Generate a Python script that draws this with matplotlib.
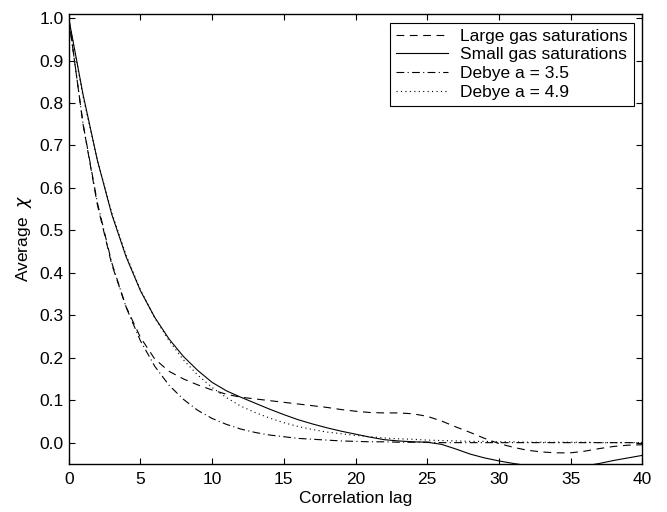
import matplotlib
matplotlib.use("Agg")
import matplotlib.pyplot as plt

plt.rcParams['font.family'] = ['Liberation Sans', 'DejaVu Sans']
plt.rcParams['mathtext.fontset'] = 'dejavusans'

# correlation lags
lag = [0, 1, 2, 3, 4, 5, 6, 7, 8, 9, 10, 11, 12, 13, 14, 15, 16, 17, 18, 19, 20,
       21, 22, 23, 24, 25, 26, 27, 28, 29, 30, 31, 32, 33, 34, 35, 36, 37, 38, 39, 40]

large_gas = [1.0, 0.75, 0.56, 0.42, 0.32, 0.248, 0.197, 0.168, 0.150, 0.136, 0.124,
             0.114, 0.107, 0.103, 0.099, 0.095, 0.091, 0.087, 0.083, 0.078, 0.074,
             0.071, 0.070, 0.070, 0.068, 0.062, 0.051, 0.037, 0.024, 0.010, -0.002,
             -0.011, -0.018, -0.022, -0.024, -0.024, -0.020, -0.014, -0.009, -0.006, -0.005]

small_gas = [1.0, 0.82, 0.665, 0.538, 0.438, 0.358, 0.295, 0.244, 0.203, 0.17, 0.142,
             0.122, 0.107, 0.093, 0.079, 0.066, 0.054, 0.044, 0.035, 0.027, 0.02,
             0.013, 0.007, 0.004, 0.002, 0.001, -0.004, -0.015, -0.027, -0.036, -0.043,
             -0.049, -0.054, -0.057, -0.058, -0.058, -0.055, -0.049, -0.042, -0.036, -0.03]

debye_35 = [1.0, 0.751, 0.565, 0.424, 0.319, 0.240, 0.180, 0.135, 0.102, 0.076, 0.057,
            0.043, 0.032, 0.024, 0.018, 0.014, 0.010, 0.008, 0.006, 0.004, 0.003,
            0.002, 0.002, 0.001, 0.001, 0.001, 0.0, 0.0, 0.0, 0.0, 0.0,
            0.0, 0.0, 0.0, 0.0, 0.0, 0.0, 0.0, 0.0, 0.0, 0.0]

debye_49 = [1.0, 0.815, 0.665, 0.542, 0.442, 0.360, 0.294, 0.240, 0.195, 0.159, 0.130,
            0.106, 0.086, 0.071, 0.058, 0.047, 0.038, 0.031, 0.025, 0.021, 0.017,
            0.014, 0.011, 0.009, 0.008, 0.006, 0.005, 0.004, 0.003, 0.003, 0.002,
            0.002, 0.001, 0.001, 0.001, 0.001, 0.001, 0.0, 0.0, 0.0, 0.0]

labels = ['Large gas saturations', 'Small gas saturations', 'Debye a = 3.5', 'Debye a = 4.9']

fig = plt.figure(figsize=(6.67, 5.12), dpi=100)
ax = fig.add_axes([0.103, 0.094, 0.860, 0.879])

ax.plot(lag, large_gas, color='black', lw=0.8, ls=(0, (7, 5)), label=labels[0])
ax.plot(lag, small_gas, color='black', lw=0.8, ls='-', label=labels[1])
ax.plot(lag, debye_35, color='black', lw=0.8, ls=(0, (7, 3, 1, 3)), label=labels[2])
ax.plot(lag, debye_49, color='black', lw=0.8, ls=(0, (1, 3)), label=labels[3])

ax.set_xlim(0, 40)
ax.set_ylim(-0.05, 1.01)
ax.set_xticks(range(0, 41, 5))
ax.set_yticks([i / 10 for i in range(11)])
ax.set_yticklabels(['%.1f' % (i / 10) for i in range(11)])
ax.tick_params(direction='in', top=True, right=True, labelsize=12.5, length=4, width=0.8)
ax.tick_params(axis='x', pad=6)
for s in ax.spines.values():
    s.set_linewidth(1.0)

ax.set_xlabel('Correlation lag', fontsize=12.5, labelpad=3)
ax.set_ylabel(r'Average  $\chi$', fontsize=12.5, labelpad=4)

leg = ax.legend(loc='upper right', fontsize=12.5, frameon=True, fancybox=False,
                edgecolor='black', framealpha=1, handlelength=3.0,
                borderpad=0.35, labelspacing=0.2, handletextpad=0.7,
                borderaxespad=0.5)
leg.get_frame().set_linewidth(0.8)

fig.savefig('out.png', dpi=100)
